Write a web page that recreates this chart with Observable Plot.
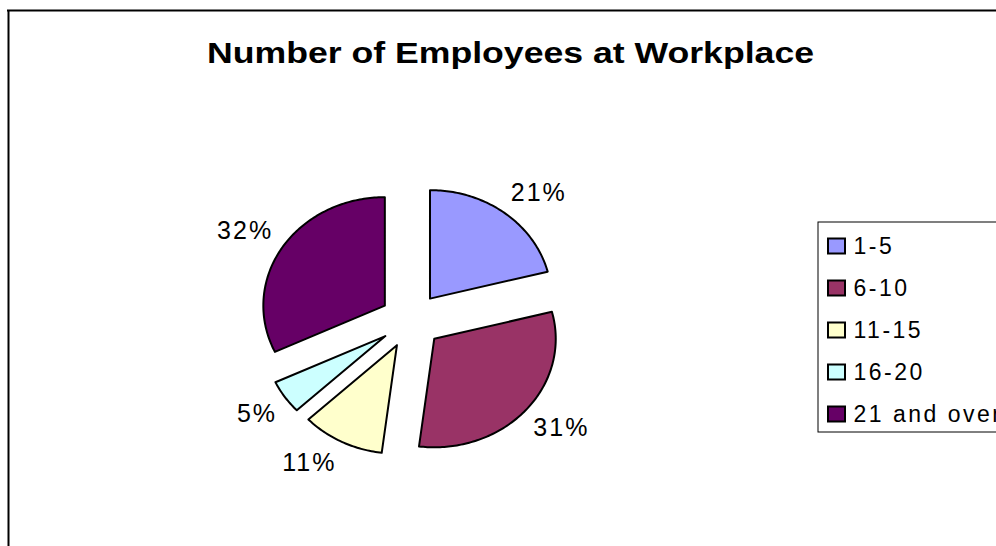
<!DOCTYPE html>
<html><head><meta charset="utf-8">
<script src="https://cdn.jsdelivr.net/npm/d3@7"></script>
<script src="https://cdn.jsdelivr.net/npm/@observablehq/plot@0.6"></script>
<style>
html,body{margin:0;padding:0;background:#fff;overflow:hidden;}
#chart svg{display:block;font-family:"Liberation Sans",Arial,sans-serif;background:#fff;}
.pct{letter-spacing:2px;}
.leg{letter-spacing:2.5px;}
</style></head><body><div id="chart"></div>
<script>
const title = "Number of Employees at Workplace";
const categories = ["1-5", "6-10", "11-15", "16-20", "21 and over"];
const values = [21, 31, 11, 5, 32];
const colors = ["#9999FF", "#993366", "#FFFFCC", "#CCFFFF", "#660066"];

const W = 996, H = 546;
const cx = 410.5, cy = 320, rx = 121.5, ry = 108.5, explode = 0.255;

const arcs = d3.pie().sort(null).value(d => d.value)(categories.map((c, i) => ({category: c, value: values[i]})));
const total = d3.sum(values);

const slicePts = [];
const labels = [];
for (const a of arcs) {
  const m = (a.startAngle + a.endAngle) / 2;
  const s = Math.sin(m), c = Math.cos(m);
  const ax = cx + explode * rx * s, ay = cy - explode * ry * c;
  slicePts.push({category: a.data.category, x: ax, y: ay});
  const n = Math.max(2, Math.ceil((a.endAngle - a.startAngle) / (Math.PI / 180)));
  for (let k = 0; k <= n; k++) {
    const t = a.startAngle + (a.endAngle - a.startAngle) * k / n;
    slicePts.push({category: a.data.category, x: ax + rx * Math.sin(t), y: ay - ry * Math.cos(t)});
  }
  const txt = Math.round(a.data.value / total * 100) + "%";
  const w = 18 * txt.length, h = 20, gap = 12;
  const px = ax + rx * s, py = ay - ry * c;
  const sx = Math.max(-1, Math.min(1, 3 * s)), sy = Math.max(-1, Math.min(1, 3 * c));
  labels.push({text: txt, x: px + gap * s + sx * w / 2, y: py - gap * c - sy * h / 2});
}

const legendTop = 246, legendStep = 42;
const legend = categories.map((c, i) => ({category: c, y: legendTop + legendStep * i}));

const plot = Plot.plot({
  width: W, height: H, margin: 0,
  x: {domain: [0, W], range: [0, W], axis: null},
  y: {domain: [0, H], range: [0, H], axis: null},
  color: {domain: categories, range: colors},
  marks: [
    Plot.ruleX([8], {y1: 10, y2: H + 5, stroke: "#000", strokeWidth: 2}),
    Plot.ruleY([10], {x1: 7, x2: W + 5, stroke: "#000", strokeWidth: 2}),
    Plot.line(slicePts, {x: "x", y: "y", z: "category", fill: "category", stroke: "#000", strokeWidth: 2, curve: "linear-closed", strokeLinejoin: "round"}),
    Plot.text(labels, {x: "x", y: "y", text: "text", fontSize: 25, fill: "#000", className: "pct"}),
    Plot.text([title], {x: 510, y: 53, text: d => d, fontSize: 29, fontWeight: "bold", fill: "#000"}),
    Plot.rect([0], {x1: 818, x2: W + 10, y1: 222, y2: 432, fill: "none", stroke: "#000", strokeWidth: 1}),
    Plot.rect(legend, {x1: 828, x2: 845, y1: d => d.y - 7.5, y2: d => d.y + 7.5, fill: "category", stroke: "#000", strokeWidth: 2}),
    Plot.text(legend, {x: 853, y: "y", text: "category", textAnchor: "start", fontSize: 23, fill: "#000", className: "leg"})
  ]
});
document.getElementById("chart").appendChild(plot);
for (const t of plot.querySelectorAll("text")) {
  if (t.textContent === title) {
    t.setAttribute("textLength", 607);
    t.setAttribute("lengthAdjust", "spacingAndGlyphs");
  }
}
</script></body></html>
